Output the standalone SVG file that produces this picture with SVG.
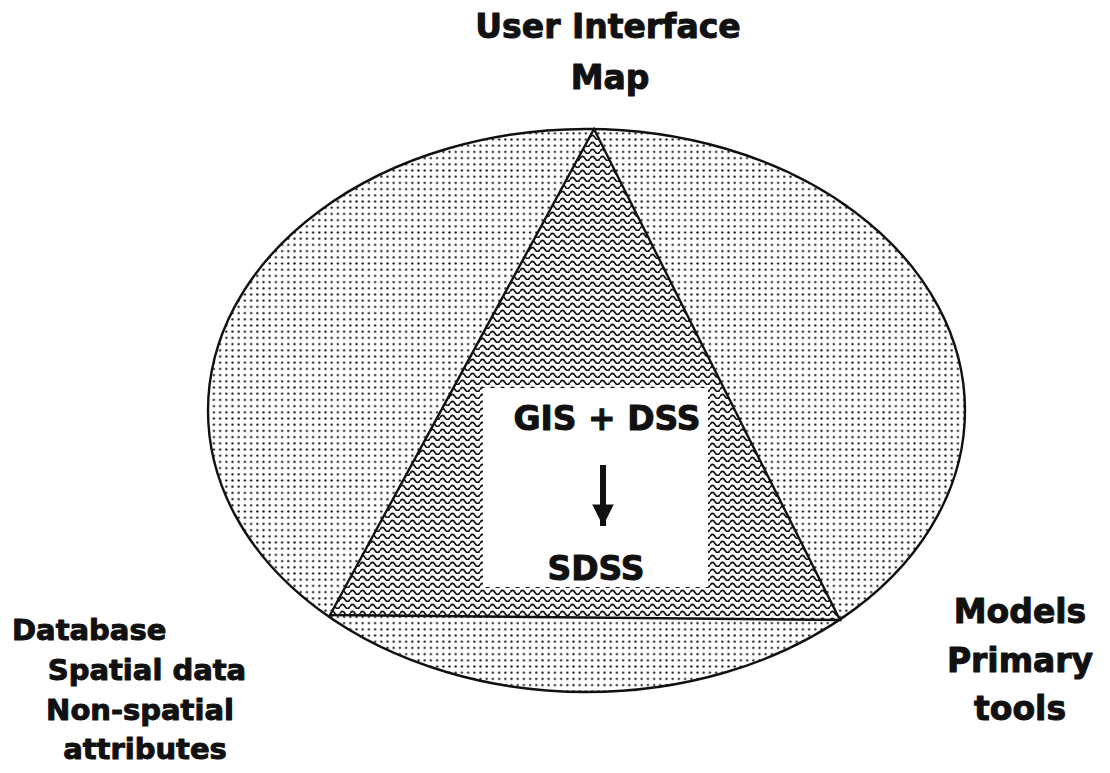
<svg xmlns="http://www.w3.org/2000/svg" width="1110" height="773" viewBox="0 0 1110 773">
<style>
.lbl{font-family:"DejaVu Sans","Liberation Sans",sans-serif;font-weight:bold;fill:#111;stroke:#111;stroke-width:1;stroke-linejoin:round;}
.big{font-size:33px;}
.mid{font-size:29px;}
.shape{stroke:#111;stroke-width:2.4;}
</style>
<defs>
<pattern id="dots" width="6.2" height="6.2" patternUnits="userSpaceOnUse">
<rect width="6.2" height="6.2" fill="#fff"/>
<circle cx="3.1" cy="3.1" r="1.2" fill="#1a1a1a"/>
</pattern>
<pattern id="waves" width="10" height="7" patternUnits="userSpaceOnUse">
<rect width="10" height="7" fill="#fff"/>
<path d="M0,4.5 Q2.5,0.3 5,4.5 T10,4.5" fill="none" stroke="#111" stroke-width="1.6"/>
</pattern>
<marker id="ah" viewBox="0 0 10 10" refX="10" refY="5" markerWidth="3.6" markerHeight="3.6" markerUnits="strokeWidth" orient="auto">
<path d="M0,0 L10,5 L0,10 Z" fill="#111"/>
</marker>
</defs>
<rect width="1110" height="773" fill="#fff"/>
<g id="ellipse-node">
<ellipse cx="586.5" cy="410.5" rx="378.5" ry="281.5" fill="url(#dots)" class="shape"/>
</g>
<g id="triangle-node">
<polygon points="594,129 330,615 840,620" fill="url(#waves)" class="shape" stroke-linejoin="miter"/>
</g>
<g id="center-node">
<rect x="483" y="388" width="225" height="199" fill="#fff"/>
<text class="lbl big" x="607" y="430" text-anchor="middle">GIS + DSS</text>
<text class="lbl big" x="596" y="580" text-anchor="middle">SDSS</text>
</g>
<g id="connectors">
<line x1="603" y1="465" x2="603" y2="526" stroke="#111" stroke-width="6" marker-end="url(#ah)"/>
</g>
<g id="top-label">
<text class="lbl big" x="608" y="38" text-anchor="middle">User Interface</text>
<text class="lbl big" x="610" y="89" text-anchor="middle">Map</text>
</g>
<g id="left-label">
<text class="lbl mid" x="12" y="640">Database</text>
<text class="lbl mid" x="147" y="680" text-anchor="middle">Spatial data</text>
<text class="lbl mid" x="140" y="720" text-anchor="middle">Non-spatial</text>
<text class="lbl mid" x="145" y="759" text-anchor="middle">attributes</text>
</g>
<g id="right-label">
<text class="lbl big" x="1020" y="623" text-anchor="middle">Models</text>
<text class="lbl big" x="1020" y="672" text-anchor="middle">Primary</text>
<text class="lbl big" x="1020" y="720" text-anchor="middle">tools</text>
</g>
</svg>
